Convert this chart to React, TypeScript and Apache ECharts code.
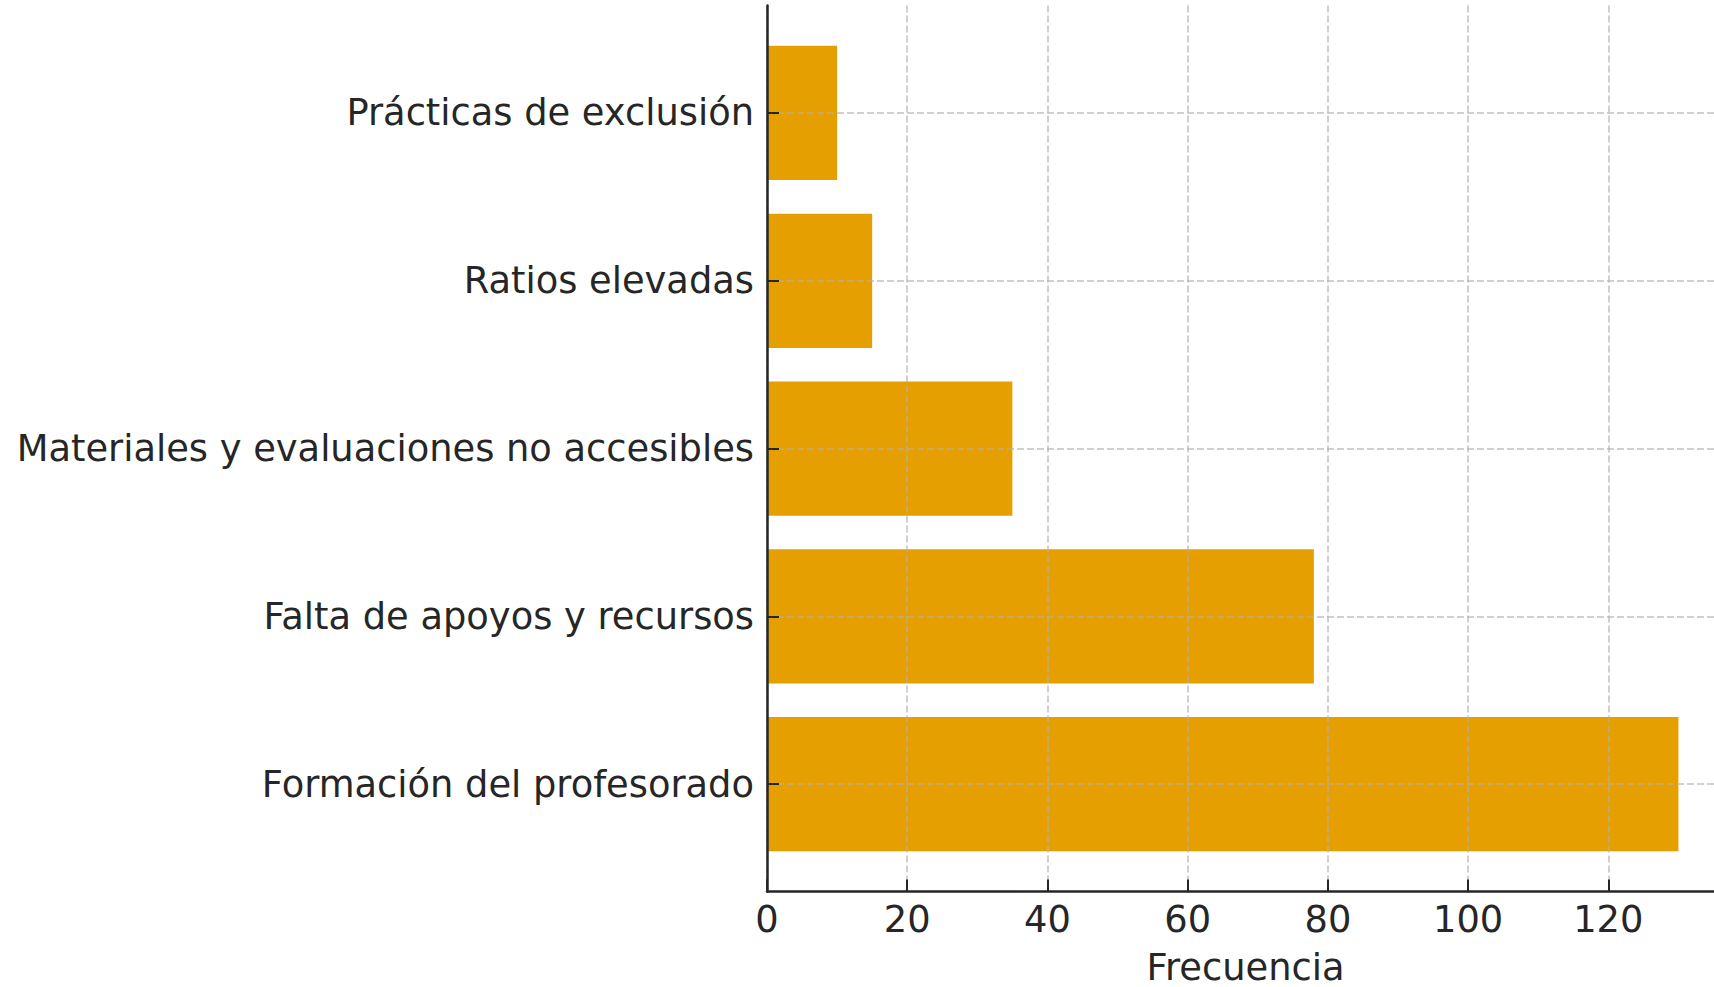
import React, { useEffect, useRef } from "react";
import * as echarts from "echarts";

const categories = [
  "Formación del profesorado",
  "Falta de apoyos y recursos",
  "Materiales y evaluaciones no accesibles",
  "Ratios elevadas",
  "Prácticas de exclusión",
];
const frequencies = [130, 78, 35, 15, 10];
const xTicks = [0, 20, 40, 60, 80, 100, 120];
const xAxisTitle = "Frecuencia";

const FONT = "DejaVu Sans";
const TEXT = "#262626";
const GRID_COLOR = "rgba(176,176,176,0.6)";
const FS = 36.8;

export default function App() {
  const ref = useRef<HTMLDivElement>(null);
  useEffect(() => {
    if (!ref.current) return;
    const chart = echarts.init(ref.current, undefined, { renderer: "svg" });
    const yTicks = categories.map((_, i) => i);
    const data = frequencies.map((v, i) => [v, i]);
    chart.setOption({
      animation: false,
      backgroundColor: "#ffffff",
      grid: {
        left: 767,
        right: 0,
        top: 5.6,
        bottom: 95.5,
        containLabel: false,
        outerBoundsMode: "none",
      },
      xAxis: {
        type: "value",
        min: 0,
        max: 136.5,
        z: 3,
        name: xAxisTitle,
        nameLocation: "middle",
        nameGap: 57,
        nameTextStyle: { fontFamily: FONT, fontSize: FS, color: TEXT },
        axisLine: { show: true, onZero: false, lineStyle: { color: TEXT, width: 2.5 } },
        axisTick: {
          show: true,
          inside: true,
          length: 12,
          lineStyle: { color: TEXT, width: 2 },
          customValues: xTicks,
        },
        axisLabel: {
          fontFamily: FONT,
          fontSize: FS,
          color: TEXT,
          margin: 9,
          customValues: xTicks,
        },
        splitLine: {
          show: true,
          lineStyle: { color: GRID_COLOR, width: 2, type: [7, 3] },
        },
      },
      yAxis: {
        type: "value",
        min: -0.64,
        max: 4.64,
        z: 3,
        axisLine: { show: true, onZero: false, lineStyle: { color: TEXT, width: 2.5 } },
        axisTick: {
          show: true,
          inside: true,
          length: 12,
          lineStyle: { color: TEXT, width: 2 },
          customValues: yTicks,
        },
        axisLabel: {
          fontFamily: FONT,
          fontSize: FS,
          color: TEXT,
          margin: 13,
          padding: [4, 0, 0, 0],
          customValues: yTicks,
          formatter: (v: number) => categories[Math.round(v)] ?? "",
        },
        splitLine: {
          show: true,
          lineStyle: { color: GRID_COLOR, width: 2, type: [7, 3] },
        },
      },
      series: [
        {
          type: "custom",
          z: 2,
          encode: { x: 0, y: 1 },
          data,
          renderItem: (_params: any, api: any) => {
            const v = api.value(0);
            const idx = api.value(1);
            const p0 = api.coord([0, idx + 0.4]);
            const p1 = api.coord([v, idx - 0.4]);
            return {
              type: "rect",
              shape: { x: p0[0], y: p0[1], width: p1[0] - p0[0], height: p1[1] - p0[1] },
              style: { fill: "#E69F00" },
            };
          },
        },
      ],
    });
    return () => chart.dispose();
  }, []);
  return (
    <div
      style={{
        position: "absolute",
        left: 0,
        top: 0,
        width: 1714,
        height: 987,
        overflow: "hidden",
        background: "#fff",
      }}
    >
      <div ref={ref} style={{ width: 1724, height: 987 }} />
    </div>
  );
}
